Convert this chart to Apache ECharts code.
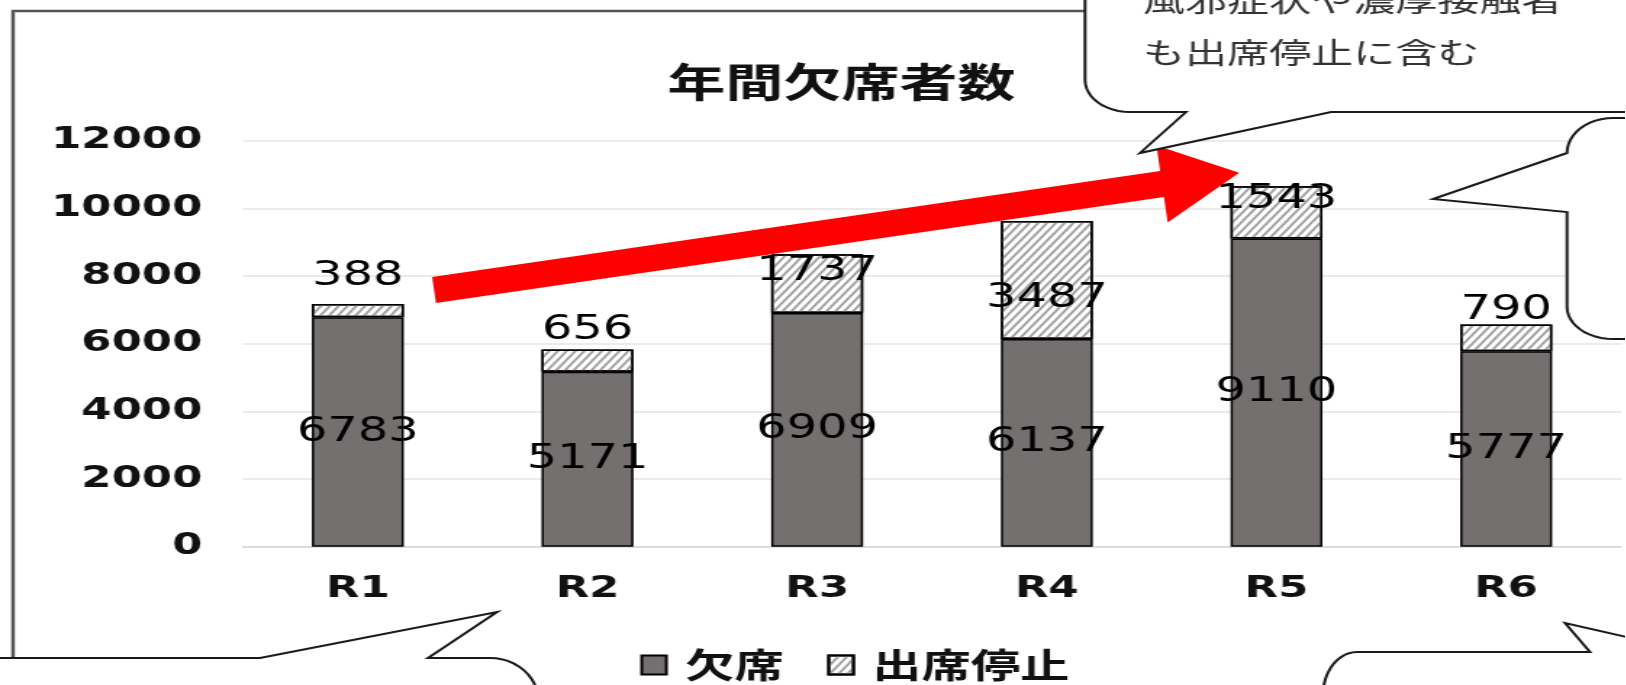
<!DOCTYPE html>
<html><head><meta charset="utf-8">
<script src="https://cdn.jsdelivr.net/npm/echarts@6/dist/echarts.min.js"></script>
<style>
html,body{margin:0;padding:0;background:#fff;overflow:hidden;width:1626px;height:685px;}
#chart{position:absolute;left:0;top:0;height:685px;transform-origin:0 0;}
</style></head><body><div id="chart"></div>
<script>
// ---- data ----
const categories = ['R1', 'R2', 'R3', 'R4', 'R5', 'R6'];
const absentValues = [6783, 5171, 6909, 6137, 9110, 5777];
const suspendedValues = [388, 656, 1737, 3487, 1543, 790];
const seriesNames = ['欠席', '出席停止'];
const yMin = 0, yMax = 12000, yInterval = 2000;
const titleText = '年間欠席者数';
const noteLines = ['風邪症状や濃厚接触者', 'も出席停止に含む'];

// ---- styling (not data) ----
const stopLabelOffsets = [-6, 2, 39, 99, 35, 7];
const S = 1.45;               // horizontal stretch of the original picture
const W = 1626 / S;
const X = v => v / S;

const el = document.getElementById('chart');
el.style.width = W + 'px';
el.style.transform = 'scaleX(' + S + ')';
const chart = echarts.init(el, null, {renderer: 'canvas', width: W, height: 685});

function arcPts(cx, cy, rx, ry, a0, a1, n) {
  const pts = [];
  for (let i = 0; i <= n; i++) {
    const a = (a0 + (a1 - a0) * i / n) * Math.PI / 180;
    pts.push([cx + rx * Math.cos(a), cy + ry * Math.sin(a)]);
  }
  return pts;
}
function poly(list) { return list.map(p => [X(p[0]), p[1]]); }

const topCallout = poly([[1085, -10], [1085, 80]]
  .concat(arcPts(1130, 80, 45, 32, 180, 90, 12))
  .concat([[1186, 112], [1140, 153], [1331, 112], [1640, 112], [1640, -10]]));
const midCallout = poly([[1640, 118], [1613, 118]]
  .concat(arcPts(1613, 153, 46, 35, 270, 180, 12))
  .concat([[1433, 199], [1567, 212], [1567, 307]])
  .concat(arcPts(1613, 307, 46, 32, 180, 90, 12))
  .concat([[1640, 339]]));
const lowLeftCallout = poly([[-10, 658], [260, 658], [497, 612], [428, 658], [490, 658]]
  .concat(arcPts(490, 700, 48, 42, 270, 360, 12))
  .concat([[-10, 700]]));
const lowRightCallout = poly([[1640, 640], [1565, 623], [1590, 652], [1357, 652]]
  .concat(arcPts(1357, 695, 34, 43, 270, 180, 12))
  .concat([[1323, 700], [1640, 700]]));
const arrow = poly([[432.1, 277.1], [1160.1, 171.1], [1156.4, 145.4], [1239.2, 172.8],
  [1167.6, 222.6], [1163.9, 196.9], [435.9, 302.9]]);

const calloutStyle = {fill: '#fff', stroke: '#1a1a1a', lineWidth: 2};
const numFont = '"DejaVu Sans", sans-serif';
const jpFont = '"Noto Sans CJK JP", sans-serif';

const option = {
  backgroundColor: '#fff',
  animation: false,
  title: {
    text: titleText, left: X(660), top: 57,
    textStyle: {fontFamily: jpFont, fontSize: 40, fontWeight: 'bold', color: '#111'}
  },
  legend: {
    data: seriesNames, left: X(633), top: 643, icon: 'rect',
    itemWidth: 17, itemHeight: 19, itemGap: 30,
    textStyle: {fontFamily: jpFont, fontSize: 34, fontWeight: 'bold', color: '#111', padding: [0, 0, 0, 8]}
  },
  grid: {left: X(243), right: W - X(1621), top: 140.7, bottom: 685 - 546.7, containLabel: false},
  xAxis: {
    type: 'category', data: categories,
    axisLine: {show: true, lineStyle: {color: '#d9d9d9', width: 1.5}},
    axisTick: {show: false},
    axisLabel: {fontFamily: numFont, fontSize: 30, fontWeight: 'bold', color: '#111', margin: 28}
  },
  yAxis: {
    type: 'value', min: yMin, max: yMax, interval: yInterval,
    axisLine: {show: false}, axisTick: {show: false},
    splitLine: {lineStyle: {color: '#e4e4e4', width: 1.5}},
    axisLabel: {fontFamily: numFont, fontSize: 30, fontWeight: 'bold', color: '#111', margin: 28,
      formatter: v => String(v)}
  },
  series: [
    {
      name: seriesNames[0], type: 'bar', stack: 'total', barWidth: '40%',
      data: absentValues,
      itemStyle: {color: '#757070', borderColor: '#000', borderWidth: 1.5},
      label: {show: true, position: 'inside', fontFamily: numFont, fontSize: 33, color: '#000'}
    },
    {
      name: seriesNames[1], type: 'bar', stack: 'total', barWidth: '40%',
      data: suspendedValues.map((v, i) => ({
        value: v,
        label: {offset: [0, stopLabelOffsets[i]]}
      })),
      itemStyle: {
        color: '#ffffff', borderColor: '#000', borderWidth: 1.5,
        decal: {color: '#a3a3a3', dashArrayX: [1, 0], dashArrayY: [1.2, 3], symbolSize: 1, rotation: -0.967}
      },
      label: {show: true, position: 'top', fontFamily: numFont, fontSize: 33, color: '#000'}
    }
  ],
  graphic: [
    {type: 'rect', z: -10, shape: {x: X(13), y: 11, width: 2000, height: 1000},
      style: {fill: 'none', stroke: '#555', lineWidth: 2.5}, silent: true},
    {type: 'polygon', z: 100, shape: {points: arrow}, style: {fill: '#ff0000'}, silent: true},
    {type: 'polygon', z: 110, shape: {points: topCallout}, style: calloutStyle, silent: true},
    {type: 'polygon', z: 110, shape: {points: midCallout}, style: calloutStyle, silent: true},
    {type: 'polygon', z: 110, shape: {points: lowLeftCallout}, style: calloutStyle, silent: true},
    {type: 'polygon', z: 110, shape: {points: lowRightCallout}, style: calloutStyle, silent: true},
    {type: 'text', z: 120, x: X(1143), y: 1, silent: true,
      style: {text: noteLines[0], font: '29px ' + jpFont, fill: '#333', align: 'left', verticalAlign: 'middle'}},
    {type: 'text', z: 120, x: X(1143), y: 53, silent: true,
      style: {text: noteLines[1], font: '29px ' + jpFont, fill: '#333', align: 'left', verticalAlign: 'middle'}}
  ]
};
chart.setOption(option);
</script></body></html>
